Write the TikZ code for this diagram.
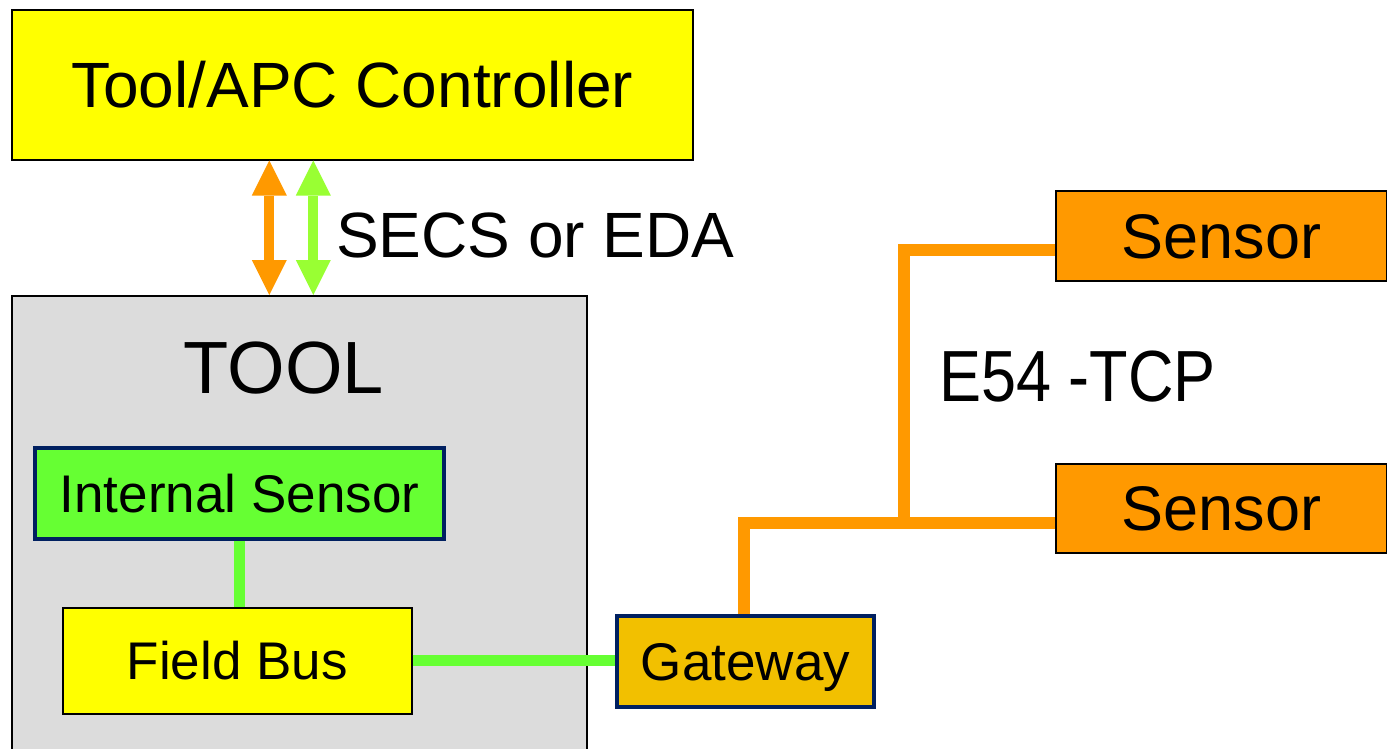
\documentclass[tikz,border=0pt]{standalone}
\usepackage{fontspec}
\setmainfont{Liberation Sans}
\usepackage{graphicx}
\usetikzlibrary{arrows.meta,calc}

\definecolor{ctrlyellow}{HTML}{FFFF00}
\definecolor{linkorange}{HTML}{FF9900}
\definecolor{arrowgreen}{HTML}{99FF33}
\definecolor{sensgreen}{HTML}{66FF33}
\definecolor{gwgold}{HTML}{F2C000}
\definecolor{navyedge}{HTML}{002060}
\definecolor{toolgray}{HTML}{DCDCDC}

\newcommand{\fs}[1]{\fontsize{#1}{#1}\selectfont}

\tikzset{
  box/.style={rectangle, inner sep=0pt, anchor=north west, align=center},
  thinbox/.style={box, draw=black, line width=1.5pt},
  navybox/.style={box, draw=navyedge, line width=4pt},
  bigarrow/.style={line width=10pt,
    {Triangle[width=35pt,length=35pt,line width=0pt]}-{Triangle[width=35pt,length=35pt,line width=0pt]}},
  orangelink/.style={draw=linkorange, line width=12pt, line join=miter},
  greenlink/.style={draw=sensgreen, line width=11pt},
}

\begin{document}
\begin{tikzpicture}[x=1pt, y=-1pt]
\clip (0,0) rectangle (1387,748);
\fill[white] (0,0) rectangle (1387,748);

% controller and tool (text boxes trimmed to cap height so text centres on capitals)
\node[thinbox, fill=ctrlyellow, minimum width=681pt, minimum height=150pt, font=\fs{64},
  text height=45.8pt, text depth=0pt]
  (ctrl) at (11,9) {Tool/APC Controller};
\node[thinbox, fill=toolgray, minimum width=575pt, minimum height=500pt]
  (tool) at (11,295) {};
\node[inner sep=0pt, font=\fs{74}, text height=53pt, text depth=0pt]
  (tooltitle) at (284,366.5) {TOOL};

% inside the tool
\node[navybox, fill=sensgreen, minimum width=409pt, minimum height=91pt, font=\fs{53},
  text height=37.9pt, text depth=0pt]
  (isens) at (33,446) {Internal Sensor};
\node[thinbox, fill=ctrlyellow, minimum width=349pt, minimum height=106pt, font=\fs{53},
  text height=37.9pt, text depth=0pt]
  (fbus) at (62,607) {Field Bus};

% gateway and external sensors
\node[navybox, fill=gwgold, minimum width=257pt, minimum height=91pt, font=\fs{53},
  text height=37.9pt, text depth=0pt]
  (gw) at (615,614) {Gateway};
\node[thinbox, fill=linkorange, minimum width=331pt, minimum height=90pt, font=\fs{63},
  text height=45.1pt, text depth=0pt]
  (sens1) at (1055,190) {Sensor};
\node[thinbox, fill=linkorange, minimum width=331pt, minimum height=89pt, font=\fs{63},
  text height=45.1pt, text depth=0pt]
  (sens2) at (1055,463) {Sensor};

% labels
\node[anchor=west, inner sep=0pt, font=\fs{64}, text height=45.8pt, text depth=0pt]
  (secs) at (336,234.5) {SECS or EDA};
\node[anchor=west, inner sep=0pt, font=\fs{63}, text height=51.9pt, text depth=0pt]
  (e54) at (939,376) {\scalebox{1}[1.15]{E54 -TCP}};

% bidirectional arrows between controller and tool
\coordinate (ax1) at (269.3,0);
\coordinate (ax2) at (313.3,0);
\draw[bigarrow, linkorange] (ctrl.south -| ax1) -- (tool.north -| ax1);
\draw[bigarrow, arrowgreen] (ctrl.south -| ax2) -- (tool.north -| ax2);

% field bus wiring
\draw[greenlink] (isens.south) -- (isens.south |- fbus.north);
\draw[greenlink] (fbus.east) -- (fbus.east -| gw.west);

% E54 network
\coordinate (gx) at (744,0);
\coordinate (junc) at (904,522.5);
\coordinate (up) at (904,250);
\draw[orangelink] (gw.north -| gx) |- (junc) -- (sens2.west |- junc);
\draw[orangelink] (junc) |- (sens1.west |- up);
\end{tikzpicture}
\end{document}
